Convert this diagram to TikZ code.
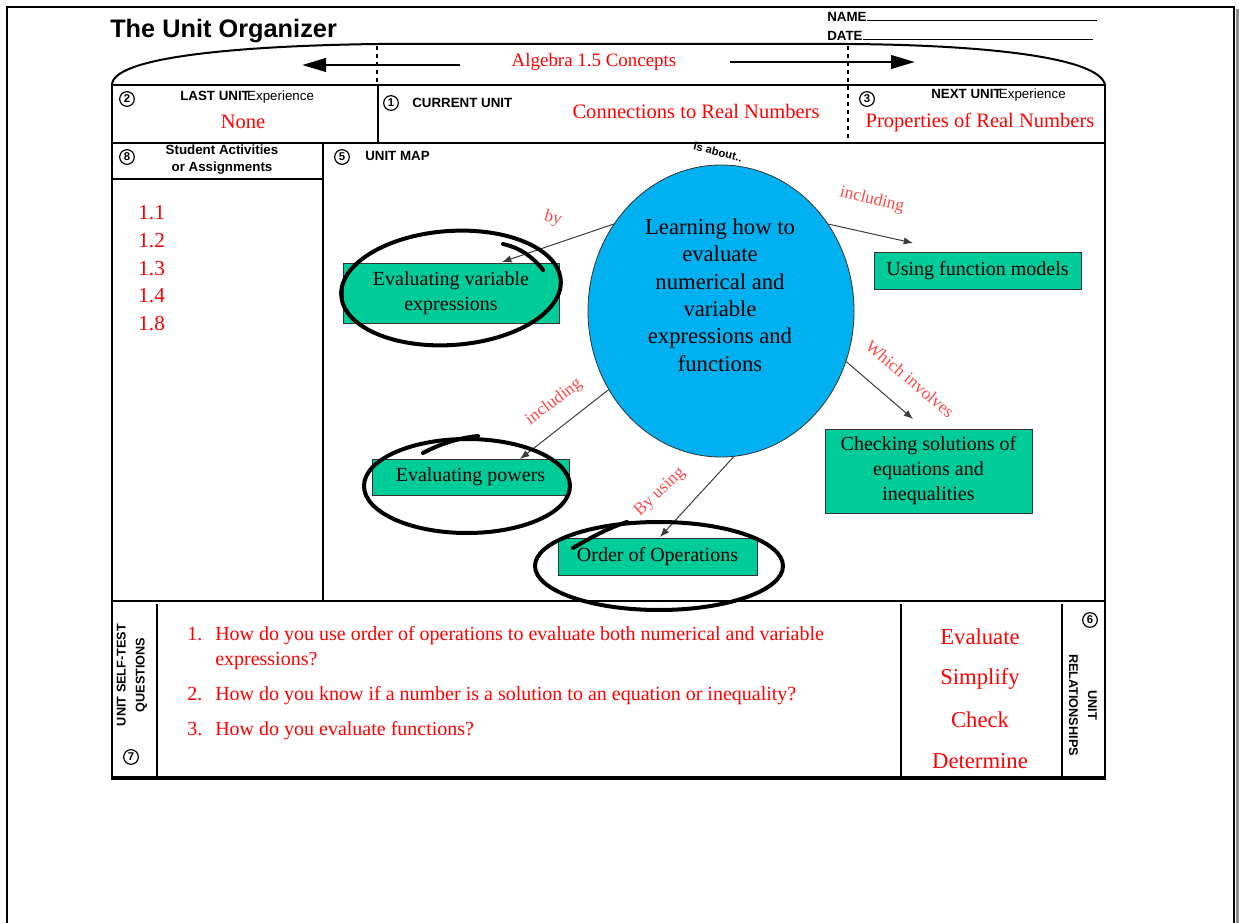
\documentclass[tikz,border=0pt]{standalone}
\usepackage{fontspec}
\setmainfont{Liberation Serif}
\setsansfont{Liberation Sans}
\usetikzlibrary{shapes.geometric, arrows.meta}
\definecolor{formred}{RGB}{255,0,0}
\definecolor{linkred}{RGB}{255,70,70}
\definecolor{mapblue}{RGB}{0,176,240}
\definecolor{mapgreen}{RGB}{0,204,153}
\definecolor{arrowgrey}{RGB}{60,60,60}
\tikzset{
	badge/.style = {draw, circle, line width=0.9pt, minimum size=11pt, inner sep=0pt, font=\sffamily\bfseries\fontsize{8.5}{9}\selectfont},
	formtag/.style = {inner sep=0pt, font=\sffamily\bfseries\fontsize{10}{12.75}\selectfont},
	redtext/.style = {text=formred, inner sep=0pt},
	qtext/.style = {text=formred, inner sep=0pt, anchor=base west, font=\fontsize{15}{18}\selectfont},
	mapbox/.style = {draw=black!80, line width=0.6pt, fill=mapgreen, align=center, inner sep=0pt, font=\fontsize{15}{18.75}\selectfont},
	maplink/.style = {draw=arrowgrey, line width=0.75pt, -{Latex[length=7pt,width=5.5pt]}},
	linklabel/.style = {text=linkred, inner sep=0pt, font=\fontsize{13}{15}\selectfont},
	pencil/.style = {draw=black, line width=3pt, line cap=round},
	rule/.style = {line width=1.5pt}
}
\begin{document}
\begin{tikzpicture}[x=0.75pt, y=-0.75pt]
	\useasboundingbox (0,0) rectangle (1239,923);
	\draw[line width=1.2pt] (7,930) -- (7,7) -- (1234,7) -- (1234,930);
	\draw[black!45, line width=2pt] (1237.5,9) -- (1237.5,930);

	\node[anchor=base west, inner sep=0pt, font=\sffamily\bfseries\fontsize{19}{21}\selectfont] (title) at (110,38) {The Unit Organizer};
	\node[formtag, anchor=west] (name) at (827,17) {NAME};
	\node[formtag, anchor=west] (date) at (827,36) {DATE};
	\draw[line width=0.6pt] ([yshift=1pt]name.south east) -- ++(230,0);
	\draw[line width=0.6pt] ([yshift=1pt]date.south east) -- ++(230,0);

	% dome
	\draw[rule] (112,85) .. controls (112,58) and (230,46) .. (377,44) -- (848,44) .. controls (990,45) and (1100,58) .. (1105,85);
	\draw[dashed, line width=0.8pt] (377,46) -- (377,84);
	\draw[dashed, line width=0.8pt] (848,46) -- (848,143);
	\node[redtext, font=\fontsize{14.2}{16}\selectfont] (course) at (594,62) {Algebra 1.5 Concepts};
	\draw[line width=2.2pt, -{Triangle[length=18pt,width=10pt]}] (460,65) -- (302,65);
	\draw[line width=2.2pt, -{Triangle[length=18pt,width=10pt]}] (730,62) -- (915,62);

	% frame
	\draw[rule] (112,85) rectangle (1105,777);
	\draw[rule] (112,143) -- (1105,143);
	\draw[rule] (378,85) -- (378,143);
	\draw[rule] (323,143) -- (323,601);
	\draw[rule] (112,179) -- (323,179);
	\draw[rule] (112,601) -- (1105,601);
	\draw[rule] (157,604) -- (157,777);
	\draw[rule] (901,604) -- (901,777);
	\draw[rule] (1062,604) -- (1062,777);
	\draw[line width=2.4pt] (111,778) -- (1106,778);

	% header
	\node[badge] (n2) at (127,99) {2};
	\node[formtag, anchor=west] (lastunit) at (180,97) {LAST UNIT\kern-2pt\mdseries Experience};
	\node[redtext, font=\fontsize{15.4}{17}\selectfont] (lastname) at (243,122) {None};
	\node[badge] (n1) at (391,103) {1};
	\node[formtag, anchor=west] (curunit) at (412,103) {CURRENT UNIT};
	\node[redtext, font=\fontsize{15.4}{17}\selectfont] (curname) at (696,111) {Connections to Real Numbers};
	\node[badge] (n3) at (867,99) {3};
	\node[formtag, anchor=west] (nextunit) at (931,95) {NEXT UNIT\kern-2pt\mdseries Experience};
	\node[redtext, font=\fontsize{15.4}{17}\selectfont] (nextname) at (980,122) {Properties of Real Numbers};

	% activities
	\node[badge] (n8) at (127,157) {8};
	\node[formtag, align=center] (activities) at (222,160) {Student Activities\\or Assignments};
	\foreach \sect [count=\i] in {1.1,1.2,1.3,1.4,1.8}
		\node[redtext, anchor=west, font=\fontsize{16}{18}\selectfont] (act\i) at (138,185.3+27.7*\i) {\sect};

	% unit map
	\node[badge] (n5) at (342,157) {5};
	\node[formtag, anchor=west] (unitmap) at (365,156) {UNIT MAP};
	\node[draw=black!80, line width=0.6pt, fill=mapblue, ellipse, minimum width=199.5pt, minimum height=219pt, inner sep=0pt] (learn) at (721,311) {};
	\node[align=center, font=\fontsize{17}{20.6}\selectfont] (learntext) at (720,295) {Learning how to\\evaluate\\numerical and\\variable\\expressions and\\functions};
	\node[inner sep=0pt, rotate=-14, font=\sffamily\bfseries\fontsize{8.5}{10}\selectfont] (about) at (718,152) {is about..};

	\node[mapbox, minimum width=162pt, minimum height=45pt] (varexpr) at (451,293) {Evaluating variable\\expressions};
	\node[mapbox, minimum width=155.25pt, minimum height=27.75pt] (funcmodel) at (977.5,270.5) {Using function models};
	\node[mapbox, minimum width=147.75pt, minimum height=27pt] (powers) at (470.5,477) {Evaluating powers};
	\node[mapbox, minimum width=149.25pt, minimum height=27.75pt] (order) at (657.5,556.5) {Order of Operations};
	\node[mapbox, minimum width=155.25pt, minimum height=63pt] (checking) at (928.5,471) {Checking solutions of\\equations and\\inequalities};

	\coordinate (byend) at (502,262);
	\coordinate (inclend) at (913,243);
	\coordinate (involend) at (913,419);
	\coordinate (powend) at (520,459);
	\coordinate (usingend) at (660,537);
	\draw[maplink] (learn.141) -- (byend);
	\draw[maplink] (learn.39) -- (inclend);
	\draw[maplink] (learn.338) -- (involend);
	\draw[maplink] (learn.215) -- (powend);
	\draw[maplink] (learn.275) -- (usingend);

	\node[linklabel, rotate=-15] (lbby) at (553,219) {by};
	\node[linklabel, rotate=-14] (lbincl) at (872,200) {including};
	\node[linklabel, rotate=-40] (lbinvol) at (910,379) {Which involves};
	\node[linklabel, rotate=37] (lbpow) at (554,402) {including};
	\node[linklabel, rotate=43] (lbusing) at (660,492) {By using};

	% pencil marks
	\draw[pencil, rotate around={4:(451,288)}] (451,288) ellipse [x radius=82.5pt, y radius=42.75pt];
	\draw[pencil] (543,270) .. controls (532,256) and (520,248) .. (503,244);
	\draw[pencil] (467,486) ellipse [x radius=77.25pt, y radius=35.25pt];
	\draw[pencil] (423,453) .. controls (440,444) and (458,438) .. (478,436);
	\draw[pencil] (659,566) ellipse [x radius=93pt, y radius=33pt];
	\draw[pencil] (573,548) .. controls (590,538) and (608,528) .. (627,522);

	% self-test questions
	\node[formtag, rotate=90, align=center, font=\sffamily\bfseries\fontsize{9.5}{14.25}\selectfont] (selftest) at (132,675) {UNIT SELF-TEST\\QUESTIONS};
	\node[badge] (n7) at (131,757) {7};
	\node[qtext] (q1num) at (187,640) {1.};
	\node[qtext] (q1) at (215,640) {How do you use order of operations to evaluate both numerical and variable};
	\node[qtext] (q1b) at (215,665) {expressions?};
	\node[qtext] (q2num) at (187,700) {2.};
	\node[qtext] (q2) at (215,700) {How do you know if a number is a solution to an equation or inequality?};
	\node[qtext] (q3num) at (187,735) {3.};
	\node[qtext] (q3) at (215,735) {How do you evaluate functions?};

	% relationships
	\foreach \word [count=\i] in {Evaluate,Simplify,Check,Determine}
		\node[redtext, font=\fontsize{17}{19}\selectfont] (rel\i) at (980,595.5+41.5*\i) {\word};
	\node[badge] (n6) at (1090,620) {6};
	\node[formtag, rotate=-90, align=center, font=\sffamily\bfseries\fontsize{9.5}{14.25}\selectfont] (relations) at (1083,705) {UNIT\\RELATIONSHIPS};
\end{tikzpicture}
\end{document}
